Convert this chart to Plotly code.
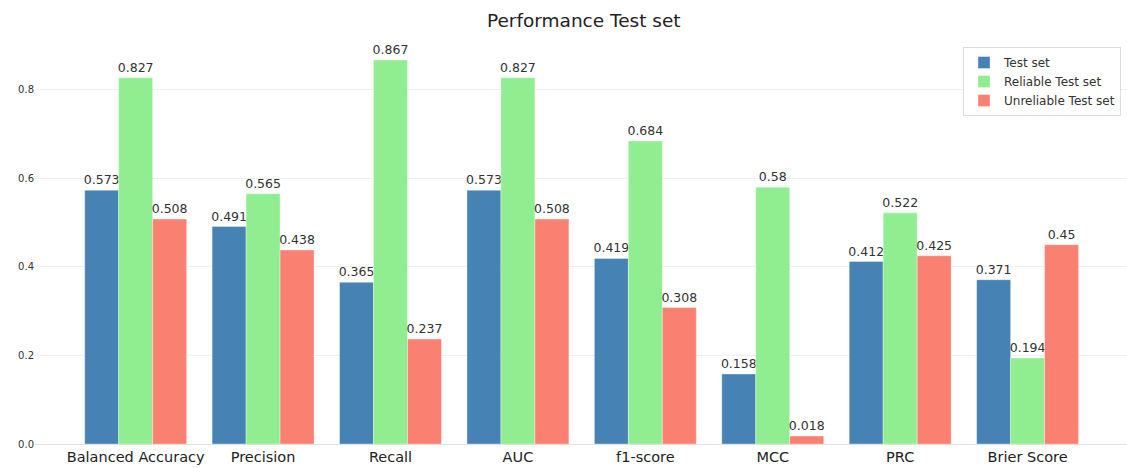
import plotly.graph_objects as go

metrics = ["Balanced Accuracy", "Precision", "Recall", "AUC", "f1-score", "MCC", "PRC", "Brier Score"]
test_set = [0.573, 0.491, 0.365, 0.573, 0.419, 0.158, 0.412, 0.371]
reliable_set = [0.827, 0.565, 0.867, 0.827, 0.684, 0.58, 0.522, 0.194]
unreliable_set = [0.508, 0.438, 0.237, 0.508, 0.308, 0.018, 0.425, 0.45]

series = [
    ("Test set", test_set, "#4682B4"),
    ("Reliable Test set", reliable_set, "#90EE90"),
    ("Unreliable Test set", unreliable_set, "#FA8072"),
]

x_pos = list(range(len(metrics)))

fig = go.Figure()
for name, vals, color in series:
    fig.add_trace(go.Bar(
        x=x_pos, y=vals, name=name,
        marker=dict(color=color, line=dict(color="rgba(255,255,255,0.6)", width=0.6)),
        text=[str(v) for v in vals],
        textposition="outside",
        textfont=dict(size=12.5, color="#333333"),
        cliponaxis=False,
    ))

fig.update_layout(
    width=1127, height=468,
    margin=dict(l=35, r=0, t=41, b=24),
    barmode="group", bargap=0.2, bargroupgap=0,
    plot_bgcolor="white", paper_bgcolor="white",
    font=dict(family="DejaVu Sans", color="#333333"),
    title=dict(text="Performance Test set", x=0.518, xanchor="center",
               y=0.957, yanchor="middle", font=dict(size=18.5, color="#222222")),
    legend=dict(x=0.9945, xanchor="right", y=0.985, yanchor="top",
                bordercolor="#dddddd", borderwidth=1, bgcolor="white",
                font=dict(size=12, color="#333333"), tracegroupgap=0,
                itemwidth=30),
    showlegend=True,
    uniformtext=dict(minsize=12, mode="show"),
)
fig.update_xaxes(
    tickmode="array", tickvals=x_pos, ticktext=metrics,
    range=[-0.79, 7.78], showgrid=False, zeroline=False,
    showline=True, linecolor="#e0e0e0", linewidth=1,
    ticks="", tickfont=dict(size=14.5, color="#222222"),
)
fig.update_yaxes(
    range=[0, 0.91], tickvals=[0.0, 0.2, 0.4, 0.6, 0.8],
    ticktext=["0.0", "0.2", "0.4", "0.6", "0.8"],
    showgrid=True, gridcolor="#f0f0f0", gridwidth=1, zeroline=False,
    showline=False, ticks="", tickfont=dict(size=10, color="#333333"),
)

fig.write_html("out.html", config={"displayModeBar": False},
               post_script="document.body.style.margin='0';")
